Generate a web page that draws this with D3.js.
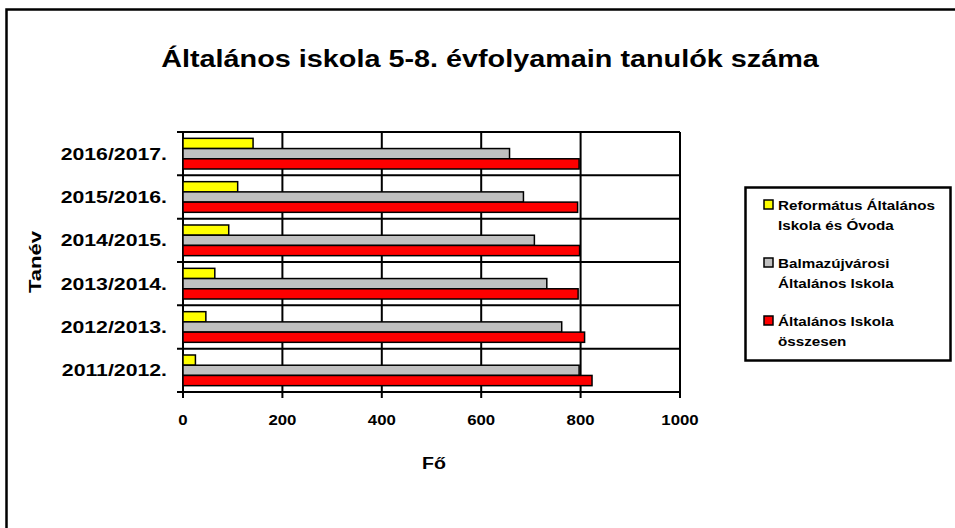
<!DOCTYPE html>
<html>
<head>
<meta charset="utf-8">
<script src="https://cdn.jsdelivr.net/npm/d3@7"></script>
<style>
  body { margin: 0; background: #fff; }
  text { font-family: Arial, "Liberation Sans", sans-serif; font-weight: bold; }
</style>
</head>
<body>
<div id="chart"></div>
<script>
// data
var years = ["2011/2012.", "2012/2013.", "2013/2014.", "2014/2015.", "2015/2016.", "2016/2017."];
var seriesNames = ["Református Általános Iskola és Óvoda", "Balmazújvárosi Általános Iskola", "Általános Iskola összesen"];
var reformatus = [25, 46, 64, 92, 110, 141];
var balmazujvarosi = [797, 762, 732, 707, 685, 657];
var osszesen = [823, 808, 795, 798, 794, 797];
var xTicks = [0, 200, 400, 600, 800, 1000];
var legendLines = [["Református Általános", "Iskola és Óvoda"], ["Balmazújvárosi", "Általános Iskola"], ["Általános Iskola", "összesen"]];
var colors = ["#ffff00", "#c0c0c0", "#ff0000"];

var W = 955, H = 528;
var plot = {left: 183, right: 680, top: 132, bottom: 392};

var svg = d3.select("#chart").append("svg")
  .attr("width", W)
  .attr("height", H);

// the source picture is a bit wider than tall, so text gets stretched sideways
function label(g, px, py, size, sx, anchor, txt) {
  return g.append("text")
    .attr("transform", "translate(" + px + "," + py + ") scale(" + sx + ",1)")
    .attr("text-anchor", anchor)
    .attr("font-size", size + "px")
    .text(txt);
}

// outer chart frame (runs off the right and bottom edge)
svg.append("rect")
  .attr("x", 6.5).attr("y", 9.5)
  .attr("width", 960).attr("height", 540)
  .attr("fill", "none").attr("stroke", "#000").attr("stroke-width", 2.5);

label(svg, 490, 67, 24, 1.2, "middle", "Általános iskola 5-8. évfolyamain tanulók száma");

var x = d3.scaleLinear().domain([0, 1000]).range([plot.left, plot.right]);
// top category is the newest year
var y = d3.scaleBand().domain(years.slice().reverse()).range([plot.top, plot.bottom]);
var inner = d3.scaleBand().domain([0, 1, 2]).range([0, y.bandwidth()]).paddingOuter(0.62).paddingInner(0);

// horizontal gridlines at category boundaries
var bounds = years.map(function(d) { return y(d); }).concat([plot.bottom]);
svg.append("g").selectAll("line")
  .data(bounds)
  .enter().append("line")
  .attr("x1", plot.left - 6).attr("x2", plot.right)
  .attr("y1", d => d).attr("y2", d => d)
  .attr("stroke", "#000").attr("stroke-width", 2);

// vertical gridlines
svg.append("g").selectAll("line")
  .data(xTicks)
  .enter().append("line")
  .attr("x1", d => x(d)).attr("x2", d => x(d))
  .attr("y1", plot.top).attr("y2", plot.bottom + 6)
  .attr("stroke", "#000").attr("stroke-width", 2);

var seriesData = [reformatus, balmazujvarosi, osszesen];
seriesData.forEach(function(vals, si) {
  svg.append("g").selectAll("rect")
    .data(vals)
    .enter().append("rect")
    .attr("x", x(0))
    .attr("y", (d, i) => y(years[i]) + inner(si))
    .attr("width", d => x(d) - x(0))
    .attr("height", inner.bandwidth())
    .attr("fill", colors[si])
    .attr("stroke", "#000")
    .attr("stroke-width", 1.5);
});

// category labels
var catG = svg.append("g");
years.forEach(function(d) {
  label(catG, 167, y(d) + y.bandwidth() / 2 + 6, 17, 1.25, "end", d);
});

// x tick labels
var tickG = svg.append("g");
xTicks.forEach(function(d) {
  label(tickG, x(d), 425, 14, 1.2, "middle", d);
});

label(svg, 434, 469, 17, 1.15, "middle", "Fő");

svg.append("text")
  .attr("transform", "translate(41,262) rotate(-90) scale(1.3,1)")
  .attr("text-anchor", "middle")
  .attr("font-size", "17px")
  .text("Tanév");

// legend
var legend = svg.append("g");
legend.append("rect")
  .attr("x", 745.5).attr("y", 187.5)
  .attr("width", 205).attr("height", 173)
  .attr("fill", "#fff").attr("stroke", "#000").attr("stroke-width", 2.5);
legendLines.forEach(function(lines, i) {
  var ly = 210 + i * 58;
  legend.append("rect")
    .attr("x", 764).attr("y", ly - 10)
    .attr("width", 9).attr("height", 9)
    .attr("fill", colors[i]).attr("stroke", "#000").attr("stroke-width", 1.5);
  lines.forEach(function(t, j) {
    label(legend, 778, ly + j * 20, 13, 1.17, "start", t);
  });
});
</script>
</body>
</html>
